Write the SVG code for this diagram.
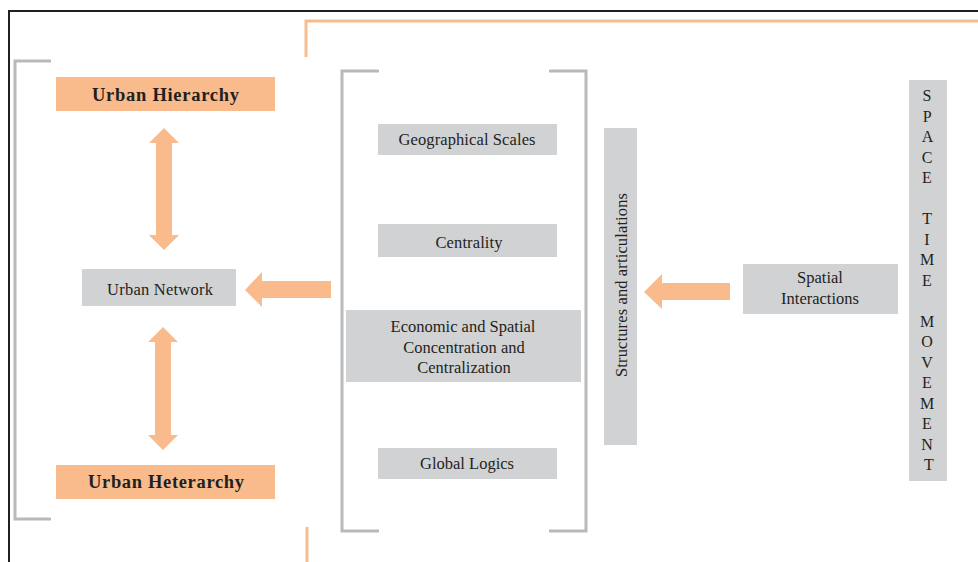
<svg xmlns="http://www.w3.org/2000/svg" width="978" height="562" viewBox="0 0 978 562">
<style>
.box{fill:#d1d2d4}
.obox{fill:#f9bb8b}
.arr{fill:#f9bb8b}
.br{fill:none;stroke:#b7b9bb;stroke-width:3}
.ob{fill:none;stroke:#f9bb8b;stroke-width:3}
text{font-family:'Liberation Serif','Times New Roman','DejaVu Serif',serif;fill:#231f20;text-anchor:middle}
.t{font-size:16.5px}
.tb{font-size:18.5px;font-weight:bold}
.st{font-size:16px}
</style>
<rect width="978" height="562" fill="#fff"/>
<path d="M9,562 V11 H978" fill="none" stroke="#231f20" stroke-width="2"/>
<path class="ob" d="M306,57 V21 H978"/>
<path class="ob" d="M307,527 V562"/>
<path class="br" d="M51,61 H15 V519 H51"/>
<path class="br" d="M379,71 H342 V531 H379"/>
<path class="br" d="M549,71 H586 V531 H549"/>
<g id="urban-hierarchy">
<rect class="obox" x="56" y="77" width="219" height="34"/>
<text class="tb" x="165.5" y="101" textLength="147" lengthAdjust="spacing">Urban Hierarchy</text>
</g>
<g id="urban-network">
<rect class="box" x="82" y="269" width="154" height="37"/>
<text class="t" x="160" y="295" textLength="106" lengthAdjust="spacing">Urban Network</text>
</g>
<g id="urban-heterarchy">
<rect class="obox" x="56" y="465" width="219" height="34"/>
<text class="tb" x="166" y="488" textLength="156" lengthAdjust="spacing">Urban Heterarchy</text>
</g>
<g id="geographical-scales">
<rect class="box" x="378" y="124" width="179" height="31"/>
<text class="t" x="467" y="145" textLength="137" lengthAdjust="spacing">Geographical Scales</text>
</g>
<g id="centrality">
<rect class="box" x="378" y="224" width="179" height="33"/>
<text class="t" x="469" y="248" textLength="67" lengthAdjust="spacing">Centrality</text>
</g>
<g id="economic-spatial">
<rect class="box" x="346" y="310" width="235" height="72"/>
<text class="t" x="463" y="332">Economic and Spatial</text>
<text class="t" x="464" y="353">Concentration and</text>
<text class="t" x="464" y="373">Centralization</text>
</g>
<g id="global-logics">
<rect class="box" x="378" y="448" width="179" height="31"/>
<text class="t" x="467" y="469">Global Logics</text>
</g>
<g id="structures">
<rect class="box" x="604" y="128" width="33" height="317"/>
<text class="t" transform="translate(627,285) rotate(-90)" x="0" y="0" textLength="184" lengthAdjust="spacing">Structures and articulations</text>
</g>
<g id="spatial-interactions">
<rect class="box" x="743" y="264" width="155" height="50"/>
<text class="t" x="820" y="283">Spatial</text>
<text class="t" x="820" y="304">Interactions</text>
</g>
<g id="space-time-movement">
<rect class="box" x="909" y="80" width="38" height="401"/>
<text class="st">
<tspan x="929" y="101">S</tspan>
<tspan x="929" y="121.5">P</tspan>
<tspan x="929" y="142">A</tspan>
<tspan x="929" y="162.5">C</tspan>
<tspan x="929" y="183">E</tspan>
<tspan x="929" y="224">T</tspan>
<tspan x="929" y="244.5">I</tspan>
<tspan x="929" y="265">M</tspan>
<tspan x="929" y="285.5">E</tspan>
<tspan x="929" y="326.5">M</tspan>
<tspan x="929" y="347">O</tspan>
<tspan x="929" y="367.5">V</tspan>
<tspan x="929" y="388">E</tspan>
<tspan x="929" y="408.5">M</tspan>
<tspan x="929" y="429">E</tspan>
<tspan x="929" y="449.5">N</tspan>
<tspan x="929" y="470">T</tspan>
</text>
</g>
<g id="connectors">
<polygon class="arr" points="164,128 179,143 172,143 172,235 179,235 164,250 149,235 156,235 156,143 149,143"/>
<polygon class="arr" points="163,327 178,342 171,342 171,435 178,435 163,450 148,435 155,435 155,342 148,342"/>
<polygon class="arr" points="245,290 262,272 262,281 331,281 331,298 262,298 262,307"/>
<polygon class="arr" points="644,292 662,274 662,283 730,283 730,300 662,300 662,309"/>
</g>
</svg>
